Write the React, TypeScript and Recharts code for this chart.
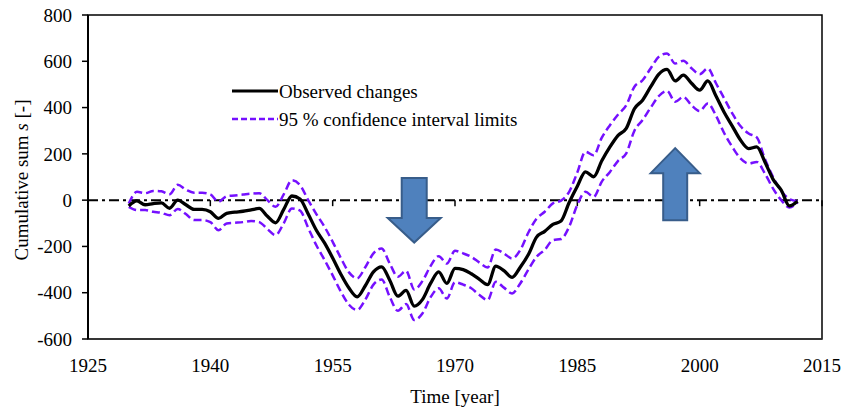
import React from "react";
import {
  ComposedChart,
  Line,
  XAxis,
  YAxis,
  ReferenceLine,
  ReferenceArea,
  ReferenceDot,
} from "recharts";

const startYear = 1930;

const observed = [
  -25, -3, -20, -15, -12, -35, 0, -20, -40, -40,
  -50, -79, -57, -52, -48, -42, -36, -70, -98, -40,
  18, 5, -60, -130, -185, -250, -320, -380, -418, -370,
  -310, -288, -346, -415, -390, -458, -430, -360, -310, -360,
  -295, -300, -318, -342, -365, -285, -305, -334, -290, -235,
  -160, -135, -105, -90, -10, 60, 122, 101, 170, 230,
  280, 310, 395, 432, 490, 545, 565, 515, 540, 505,
  475, 515, 450, 380, 320, 260, 223, 230, 165, 90,
  43, -25, -5,
];

const upper = [
  -15, 36, 30, 40, 38, 25, 66, 45, 32, 32,
  25, -7, 17, 20, 24, 28, 30, 0, -29, 25,
  86, 65, 0, -60, -115, -180, -250, -312, -338, -290,
  -230, -209, -274, -331, -305, -386, -350, -285, -242, -274,
  -219, -230, -245, -270, -291, -213, -230, -252, -216, -140,
  -80, -50, -14, -2, 36, 120, 209, 194, 270, 324,
  370, 410, 490, 518, 570, 620, 634, 590, 602, 570,
  544, 569, 505, 440, 375, 320, 288, 271, 178, 100,
  40, 5, -5,
];

const lower = [
  -29, -43, -43, -50, -55, -65, -38, -60, -86, -86,
  -95, -130, -101, -98, -95, -90, -95, -125, -151, -100,
  -36, -45, -120, -195, -258, -325, -395, -452, -475, -430,
  -365, -343, -418, -478, -449, -518, -490, -420, -381, -425,
  -355, -365, -381, -410, -432, -353, -378, -403, -360, -300,
  -245, -215, -173, -168, -115, -20, 36, 14, 80, 122,
  170, 202, 300, 346, 400, 450, 472, 425, 446, 410,
  385, 418, 365, 290, 230, 180, 158, 165, 115, 50,
  0, -32, -10,
];

const xTicks = [1925, 1940, 1955, 1970, 1985, 2000, 2015];
const yTicks = [-600, -400, -200, 0, 200, 400, 600, 800];

const arrowYears = [1965, 1997];
const arrowValues = [-45, 69];
const arrowDirections = ["down", "up"];

const legendLabels = ["Observed changes", "95 % confidence interval limits"];

const data = observed.map((v, i) => ({
  year: startYear + i,
  observed: v,
  upper: upper[i],
  lower: lower[i],
}));

const FONT = "'Liberation Serif', 'Times New Roman', serif";
const FS = 19;
const PURPLE = "#7510FF";

const DownArrow = (props: any) => {
  const { cx, cy } = props;
  const pts = [
    [cx - 12.5, cy - 32.5],
    [cx + 12.5, cy - 32.5],
    [cx + 12.5, cy + 7.5],
    [cx + 26.5, cy + 7.5],
    [cx, cy + 32],
    [cx - 26.5, cy + 7.5],
    [cx - 12.5, cy + 7.5],
  ]
    .map((p) => p.join(","))
    .join(" ");
  return <polygon points={pts} fill="#4F81BD" stroke="#385D8A" strokeWidth={2} />;
};

const UpArrow = (props: any) => {
  const { cx, cy } = props;
  const pts = [
    [cx, cy - 36],
    [cx + 24.5, cy - 11],
    [cx + 12, cy - 11],
    [cx + 12, cy + 36],
    [cx - 12, cy + 36],
    [cx - 12, cy - 11],
    [cx - 24.5, cy - 11],
  ]
    .map((p) => p.join(","))
    .join(" ");
  return <polygon points={pts} fill="#4F81BD" stroke="#385D8A" strokeWidth={2} />;
};

const LegendBox = () => (
  <svg
    width={330}
    height={60}
    style={{ position: "absolute", left: 232, top: 78, overflow: "visible" }}
  >
    <line x1={0} y1={13} x2={46} y2={13} stroke="#000" strokeWidth={3.2} />
    <text x={47} y={19.5} fontFamily={FONT} fontSize={FS} fill="#000">
      {legendLabels[0]}
    </text>
    <line x1={0} y1={41} x2={46} y2={41} stroke={PURPLE} strokeWidth={2.4} strokeDasharray="6 3" />
    <text x={47} y={47.5} fontFamily={FONT} fontSize={FS} fill="#000">
      {legendLabels[1]}
    </text>
  </svg>
);

const YLabel = () => (
  <text
    x={21}
    y={180}
    transform="rotate(-90, 21, 180)"
    textAnchor="middle"
    dominantBaseline="central"
    fontFamily={FONT}
    fontSize={FS}
    fill="#000"
  >
    Cumulative sum <tspan style={{ fontStyle: "italic" }}>s</tspan> [-]
  </text>
);

const XLabel = () => (
  <text
    x={455}
    y={396}
    textAnchor="middle"
    dominantBaseline="central"
    fontFamily={FONT}
    fontSize={FS}
    fill="#000"
  >
    Time [year]
  </text>
);

export default function App() {
  return (
    <div style={{ position: "absolute", left: 0, top: 0, width: 842, height: 412, background: "#fff" }}>
      <ComposedChart
        width={842}
        height={412}
        data={data}
        margin={{ top: 15, right: 20, left: 0, bottom: 0 }}
      >
        <XAxis
          dataKey="year"
          type="number"
          domain={[1925, 2015]}
          ticks={xTicks}
          tickLine={false}
          axisLine={{ stroke: "#333", strokeWidth: 1.5 }}
          tick={{ fontFamily: FONT, fontSize: FS, fill: "#000" }}
          tickMargin={14}
          height={73}
          label={<XLabel />}
        />
        <YAxis
          type="number"
          domain={[-600, 800]}
          ticks={yTicks}
          width={88}
          tickSize={6}
          tickMargin={10}
          tickLine={{ stroke: "#000", strokeWidth: 1.5 }}
          axisLine={{ stroke: "#000", strokeWidth: 2 }}
          tick={{ fontFamily: FONT, fontSize: FS, fill: "#000" }}
          allowDataOverflow
          label={<YLabel />}
        />
        <ReferenceArea
          x1={1925}
          x2={2015}
          y1={-600}
          y2={800}
          fill="none"
          stroke="#000"
          strokeWidth={1.5}
        />
        <ReferenceLine y={0} stroke="#000" strokeWidth={2} strokeDasharray="10 4 3 4" />
        {xTicks.slice(1).map((t) => (
          <ReferenceLine
            key={t}
            segment={[
              { x: t, y: 0 },
              { x: t, y: -26 },
            ]}
            stroke="#000"
            strokeWidth={1.5}
          />
        ))}
        <Line
          dataKey="upper"
          type="monotone"
          stroke={PURPLE}
          strokeWidth={2.5}
          strokeDasharray="8 4"
          dot={false}
          isAnimationActive={false}
        />
        <Line
          dataKey="lower"
          type="monotone"
          stroke={PURPLE}
          strokeWidth={2.5}
          strokeDasharray="8 4"
          dot={false}
          isAnimationActive={false}
        />
        <Line
          dataKey="observed"
          type="monotone"
          stroke="#000"
          strokeWidth={3.3}
          dot={false}
          isAnimationActive={false}
        />
        {arrowYears.map((yr, i) => (
          <ReferenceDot
            key={yr}
            x={yr}
            y={arrowValues[i]}
            shape={arrowDirections[i] === "down" ? DownArrow : UpArrow}
          />
        ))}
      </ComposedChart>
      <LegendBox />
    </div>
  );
}
